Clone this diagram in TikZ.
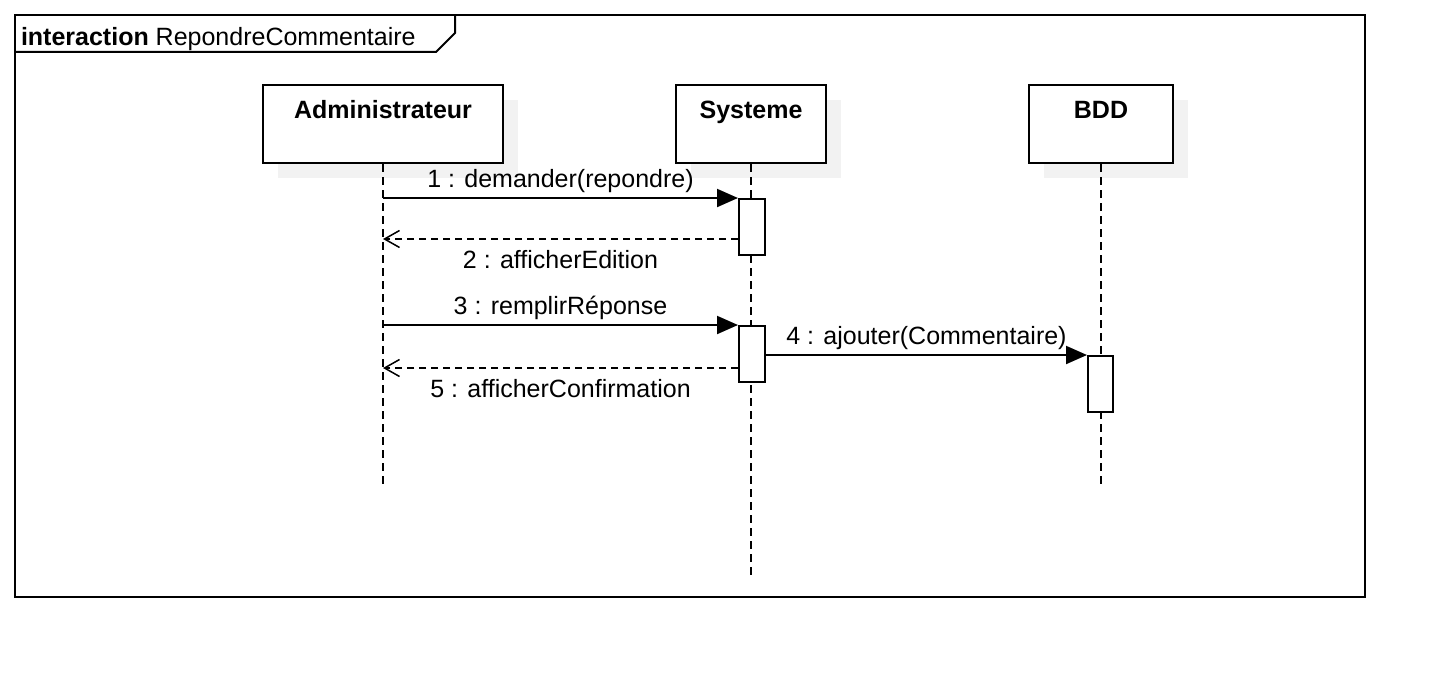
\documentclass[tikz,border=0pt]{standalone}
\usepackage{fontspec}
\setmainfont{Liberation Sans}
\usetikzlibrary{arrows.meta,calc,positioning}
\definecolor{umlshadow}{HTML}{F2F2F2}

\begin{document}
\begin{tikzpicture}[x=1pt,y=-1pt,line width=2pt,font=\fontsize{25}{30}\selectfont,
    lifebox/.style={draw,fill=white,minimum height=78pt,inner sep=0pt},
    actbox/.style={draw,fill=white,minimum width=26pt,minimum height=56pt,inner sep=0pt},
    lifeline/.style={line width=1.8pt,dash pattern=on 8pt off 5pt},
    callmsg/.style={-{Triangle[length=21pt,width=18pt]}},
    replymsg/.style={dash pattern=on 7pt off 5pt,-{Straight Barb[length=15pt,width=17pt,line width=1.5pt]}},
    msglabel/.style={anchor=base,inner sep=0pt}]
  \useasboundingbox (0,0) rectangle (1450,682);
  % frame
  \draw (15,15) rectangle (1365,597);
  \node[anchor=base west,inner sep=0pt] (title) at (20,46) {\textbf{interaction} RepondreCommentaire};
  \draw (15,52) -- (436,52) -- (455,33) -- (455,15);
  % lifelines
  \foreach \n/\x/\w/\t/\e in {adm/383/240/Administrateur/485,sys/751/150/Systeme/578,bdd/1101/144/BDD/485}{
    \fill[umlshadow] (\x-\w/2+15,100) rectangle (\x+\w/2+15,178);
    \node[lifebox,minimum width=\w pt] (\n) at (\x,124) {};
    \node[font=\fontsize{25}{30}\selectfont\bfseries,anchor=base,inner sep=0pt] (\n-name) at ($(\n.north)+(0,34)$) {\t};
    \coordinate (\n-end) at (\x,\e);
    \draw[lifeline] (\n.south) -- (\n-end);
  }
  % activations
  \node[actbox] (act1) at (752,227) {};
  \node[actbox] (act2) at (752,354) {};
  \node[actbox,minimum width=25pt] (act3) at (1100.5,384) {};
  % messages
  \coordinate (r2) at ($(act1.south west)+(0,-17)$);
  \coordinate (r5) at ($(act2.south west)+(0,-15)$);
  \draw[callmsg] (adm.south |- act1.north) -- (act1.north west)
    node[msglabel,midway,yshift=11pt] {1 : demander(repondre)};
  \draw[replymsg] (r2) -- (adm.south |- r2)
    node[msglabel,midway,yshift=-29pt] {2 : afficherEdition};
  \draw[callmsg] (adm.south |- act2.north) -- (act2.north west)
    node[msglabel,midway,yshift=11pt] {3 : remplirRéponse};
  \draw[callmsg] (act2.east |- act3.north) -- (act3.north west)
    node[msglabel,midway,yshift=11pt] {4 : ajouter(Commentaire)};
  \draw[replymsg] (r5) -- (adm.south |- r5)
    node[msglabel,midway,yshift=-29pt] {5 : afficherConfirmation};
\end{tikzpicture}
\end{document}
